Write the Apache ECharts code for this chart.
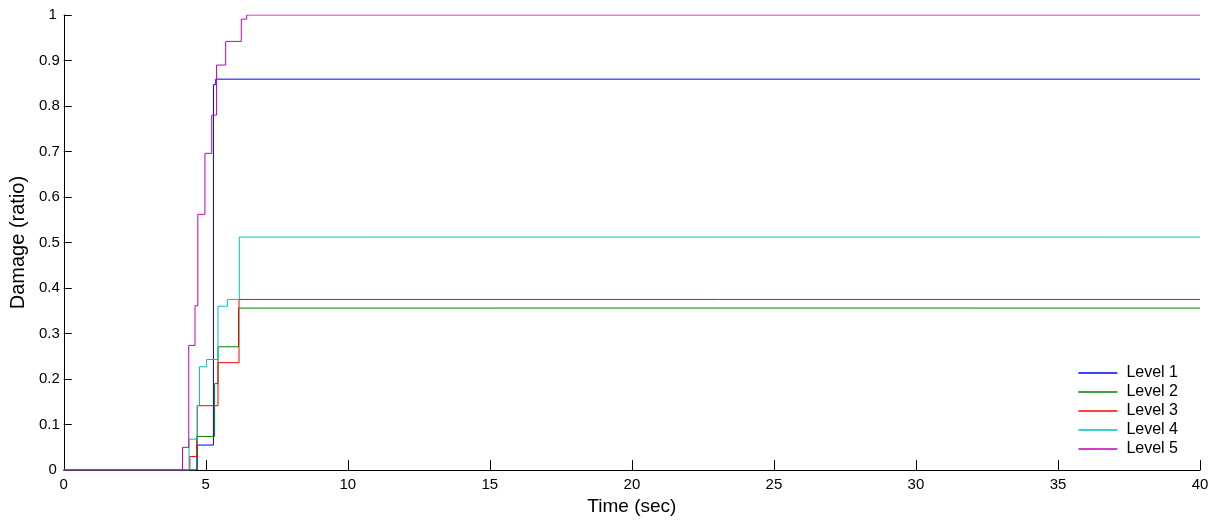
<!DOCTYPE html>
<html><head><meta charset="utf-8">
<script src="https://cdn.jsdelivr.net/npm/echarts@6/dist/echarts.min.js"></script>
<style>html,body{margin:0;padding:0;background:#fff}#c{width:1220px;height:521px}</style>
</head><body><div id="c"></div>
<script>
// [time (sec), damage ratio] — value jumps at each time
const level1 = [[0,0],[4.70,0],[4.70,0.055],[5.27,0.055],[5.27,0.847],[5.35,0.847],[5.35,0.859],[40,0.859]];
const level2 = [[0,0],[4.68,0],[4.68,0.074],[5.31,0.074],[5.31,0.19],[5.43,0.19],[5.43,0.271],[6.15,0.271],[6.15,0.356],[40,0.356]];
const level3 = [[0,0],[4.44,0],[4.44,0.030],[4.70,0.030],[4.70,0.1415],[5.43,0.1415],[5.43,0.236],[6.17,0.236],[6.17,0.375],[40,0.375]];
const level4 = [[0,0],[4.41,0],[4.41,0.068],[4.70,0.068],[4.70,0.142],[4.78,0.142],[4.78,0.227],[5.03,0.227],[5.03,0.243],[5.43,0.243],[5.43,0.360],[5.76,0.360],[5.76,0.375],[6.18,0.375],[6.18,0.512],[40,0.512]];
const level5 = [[0,0],[4.18,0],[4.18,0.05],[4.40,0.05],[4.40,0.274],[4.62,0.274],[4.62,0.361],[4.72,0.361],[4.72,0.562],[4.97,0.562],[4.97,0.696],[5.21,0.696],[5.21,0.78],[5.38,0.78],[5.38,0.89],[5.70,0.89],[5.70,0.942],[6.25,0.942],[6.25,0.991],[6.44,0.991],[6.44,1.0],[40,1.0]];
const seriesNames = ['Level 1','Level 2','Level 3','Level 4','Level 5'];
const seriesData = [level1, level2, level3, level4, level5];
const colors = ['#0000ff','#008000','#ff0000','#00bfbf','#bf00bf'];

const chart = echarts.init(document.getElementById('c'), null, {renderer:'canvas'});
const font = 'Liberation Sans, Arial, sans-serif';
chart.setOption({
  animation:false,
  color: colors,
  grid:{left:62,right:20,top:15,bottom:49,containLabel:false},
  legend:{
    orient:'vertical', right:37, bottom:59, itemWidth:39, itemHeight:1.5, itemGap:3,
    icon:'rect',
    textStyle:{fontFamily:font,fontSize:16,lineHeight:16,color:'#000',padding:[0,0,0,4]},
    data: seriesNames
  },
  xAxis:{
    type:'value', min:0, max:40, interval:5,
    name:'Time (sec)', nameLocation:'middle', nameGap:21,
    nameTextStyle:{fontFamily:font,fontSize:19,color:'#000'},
    axisLine:{lineStyle:{color:'#000'}},
    axisTick:{inside:true,length:10,lineStyle:{color:'#000'}},
    axisLabel:{fontFamily:font,fontSize:15,color:'#000',margin:7},
    splitLine:{show:false}
  },
  yAxis:{
    type:'value', min:0, max:1, interval:0.1,
    name:'Damage (ratio)', nameLocation:'middle', nameGap:32,
    nameTextStyle:{fontFamily:font,fontSize:20,color:'#000'},
    axisLine:{show:true,lineStyle:{color:'#000'}},
    axisTick:{show:true,inside:true,length:8,lineStyle:{color:'#000'}},
    axisLabel:{fontFamily:font,fontSize:15,color:'#000',margin:4,
      formatter:v=>{const s=String(Math.round(v*10)/10); return (s==='1'||s==='0')?'{w|'+s+'}':s;},
      rich:{w:{fontFamily:font,fontSize:15,color:'#000',padding:[0,3,0,0]}}},
    splitLine:{show:false}
  },
  series: seriesNames.map((n,i)=>({
    name:n, type:'line', data:seriesData[i], showSymbol:false, symbol:'none',
    lineStyle:{width:1,color:colors[i]}, itemStyle:{color:colors[i]}
  }))
});
</script></body></html>
